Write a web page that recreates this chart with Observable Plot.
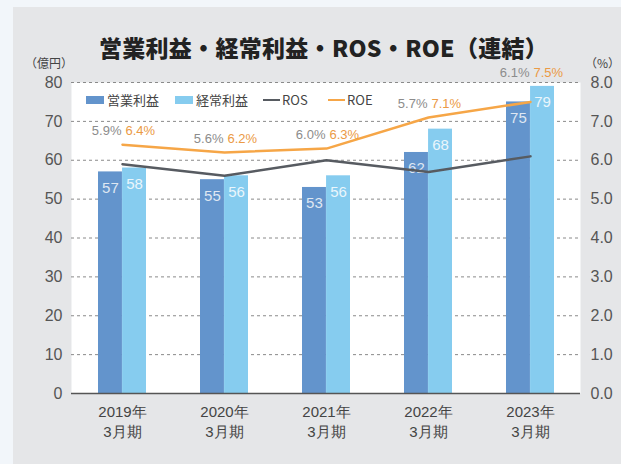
<!DOCTYPE html>
<html><head><meta charset="utf-8">
<script src="https://cdn.jsdelivr.net/npm/d3@7"></script>
<script src="https://cdn.jsdelivr.net/npm/@observablehq/plot@0.6"></script>
<style>
body{margin:0;}
#wrap{position:relative;width:621px;height:464px;background:#f2f6fa;overflow:hidden;font-family:"Liberation Sans",Arial,sans-serif;}
#panel{position:absolute;left:13px;top:7px;width:608px;height:457px;background:#e5e6e8;}
#title{position:absolute;left:0;width:647px;top:30px;text-align:center;font-weight:900;font-size:23px;font-family:"Noto Sans CJK JP",sans-serif;color:#222;letter-spacing:0.3px;}
.unit{position:absolute;top:54px;font-size:12px;color:#444;font-family:"Noto Sans CJK JP",sans-serif;}
#chart{position:absolute;left:0;top:0;}
.lg{position:absolute;top:92px;font-size:13px;color:#444;font-family:"Noto Sans CJK JP","Liberation Sans",sans-serif;line-height:16px;}
.sw{position:absolute;}
</style></head>
<body><div id="wrap"><div id="panel"></div>
<div id="chart"></div>
<div id="title">営業利益・経常利益・ROS・ROE（連結）</div>
<div class="unit" style="left:25px">（億円）</div>
<div class="unit" style="left:585px">（%）</div>
<div id="legend"></div>
</div>
<script>
const years = ["2019", "2020", "2021", "2022", "2023"];
const operatingProfit = [57, 55, 53, 62, 75];
const ordinaryProfit = [58, 56, 56, 68, 79];
const ros = [5.9, 5.6, 6.0, 5.7, 6.1];
const roe = [6.4, 6.2, 6.3, 7.1, 7.5];
const leftTicks = [0, 10, 20, 30, 40, 50, 60, 70, 80];
const seriesNames = ["営業利益", "経常利益", "ROS", "ROE"];

const C = {op: "#6394cc", rc: "#86ccef", ros: "#575b61", roe: "#f6a647"};
const data = years.map((y, i) => ({year: y, op: operatingProfit[i], rc: ordinaryProfit[i], ros: ros[i], roe: roe[i]}));

const W = 621, H = 464, ml = 71, mr = 41, mt = 82, mb = 71;
const pi = 0.53, po = 0.25;
const step = (W - ml - mr) / (years.length - pi + 2 * po);
const bw = step * (1 - pi);
const half = bw / 2;

const chart = Plot.plot({
  width: W, height: H, marginLeft: ml, marginRight: mr, marginTop: mt, marginBottom: mb,
  style: {background: "transparent", fontFamily: "'Liberation Sans', Arial, sans-serif", overflow: "visible"},
  x: {type: "band", domain: years, paddingInner: pi, paddingOuter: po, label: null},
  y: {domain: [0, 80], label: null},
  marks: [
    Plot.frame({fill: "white", stroke: "none"}),
    Plot.gridY(leftTicks.filter(d => d > 0), {stroke: "#8a8a8a", strokeOpacity: 1, strokeDasharray: "3,3", strokeWidth: 1}),
    Plot.barY(data, {x: "year", y: "op", fill: C.op, insetRight: half}),
    Plot.barY(data, {x: "year", y: "rc", fill: C.rc, insetLeft: half}),
    Plot.ruleY([0], {stroke: "#555", strokeWidth: 1.5}),
    Plot.text(data, {x: "year", y: "op", text: d => String(d.op), dx: -half / 2, dy: 16, fill: "#dfe7f2", fontSize: 15}),
    Plot.text(data, {x: "year", y: "rc", text: d => String(d.rc), dx: half / 2, dy: 16, fill: "#eaf6fc", fontSize: 15}),
    Plot.line(data, {x: "year", y: d => d.ros * 10, stroke: C.ros, strokeWidth: 2.5}),
    Plot.line(data, {x: "year", y: d => d.roe * 10, stroke: C.roe, strokeWidth: 2.5}),
    Plot.text(data, {x: "year", y: d => Math.max(d.roe * 10, d.op, d.rc), text: d => d.ros.toFixed(1) + "%", textAnchor: "end", dx: -1, dy: -14, fill: "#8c8c8c", fontSize: 13}),
    Plot.text(data, {x: "year", y: d => Math.max(d.roe * 10, d.op, d.rc), text: d => d.roe.toFixed(1) + "%", textAnchor: "start", dx: 3, dy: -14, fill: "#eb9a45", fontSize: 13}),
    Plot.axisY({ticks: leftTicks, tickSize: 0, tickPadding: 9, fontSize: 16, fill: "#555", label: null}),
    Plot.axisY({anchor: "right", ticks: leftTicks, tickSize: 0, tickPadding: 10, fontSize: 16, fill: "#555", tickFormat: d => (d / 10).toFixed(1), label: null}),
    Plot.axisX({tickSize: 0, tickPadding: 10, fontSize: 15, fill: "#444", lineHeight: 1.3, tickFormat: d => d + "年\n3月期", label: null})
  ]
});
document.getElementById("chart").appendChild(chart);

// legend
const lg = document.getElementById("legend");
const items = [
  {name: seriesNames[0], type: "rect", color: C.op, x: 86},
  {name: seriesNames[1], type: "rect", color: C.rc, x: 175},
  {name: seriesNames[2], type: "line", color: C.ros, x: 263},
  {name: seriesNames[3], type: "line", color: C.roe, x: 328}
];
for (const it of items) {
  const sw = document.createElement("div");
  sw.className = "sw";
  if (it.type === "rect") {
    Object.assign(sw.style, {left: it.x + "px", top: "96px", width: "18px", height: "8px", background: it.color});
  } else {
    Object.assign(sw.style, {left: it.x + "px", top: "99px", width: "17px", height: "2px", background: it.color});
  }
  lg.appendChild(sw);
  const t = document.createElement("div");
  t.className = "lg";
  t.textContent = it.name;
  t.style.left = (it.x + (it.type === "rect" ? 21 : 19)) + "px";
  lg.appendChild(t);
}
</script>
</body></html>
